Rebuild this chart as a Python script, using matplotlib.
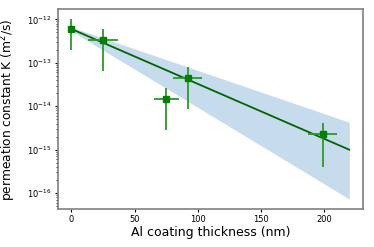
import numpy as np
import matplotlib
matplotlib.use("Agg")
import matplotlib.pyplot as plt
from matplotlib.ticker import NullFormatter

# measured points
thickness = np.array([0, 25, 75, 92, 199])
thickness_err = np.array([0, 12, 10, 11.5, 11.5])
K = np.array([6.0e-13, 3.3e-13, 1.5e-14, 4.4e-14, 2.3e-15])
K_lo = np.array([2.0e-13, 6.6e-14, 2.9e-15, 8.7e-15, 4.1e-16])
K_hi = np.array([1.0e-12, 5.9e-13, 2.7e-14, 8.0e-14, 4.1e-15])

# fit line and confidence band
fit_x = np.array([0, 220])
fit_K = np.array([6.0e-13, 1.0e-15])
band_upper = np.array([6.6e-13, 4.3e-15])
band_lower = np.array([5.4e-13, 7.3e-17])

y_ticks = [1e-16, 1e-15, 1e-14, 1e-13, 1e-12]

fig = plt.figure(figsize=(3.74, 2.47), dpi=100)
ax = fig.add_axes([0.154, 0.153, 0.817, 0.809])

ax.fill_between(fit_x, band_lower, band_upper, color="C0", alpha=0.25, lw=0)
ax.plot(fit_x, fit_K, color="darkgreen", lw=1.3)
ax.errorbar(thickness, K, yerr=[K - K_lo, K_hi - K], xerr=thickness_err,
            fmt="s", color="green", ecolor="#2a9a2a", elinewidth=1.3,
            markersize=5, capsize=0)

ax.set_yscale("log")
ax.set_yticks(y_ticks)
ax.set_ylim(10**-16.37, 10**-11.77)
ax.yaxis.set_minor_formatter(NullFormatter())
ax.set_xlabel("Al coating thickness (nm)", fontsize=9, labelpad=1)
ax.set_ylabel("permeation constant K (m$^2$/s)", fontsize=8.8)
ax.yaxis.set_label_coords(-0.128, 0.5)
ax.tick_params(labelsize=6, length=2.5, pad=2)
ax.tick_params(which="minor", length=1.5)
for s in ax.spines.values():
    s.set_color("gray")
    s.set_linewidth(1.2)

fig.savefig("out.png", dpi=100)
